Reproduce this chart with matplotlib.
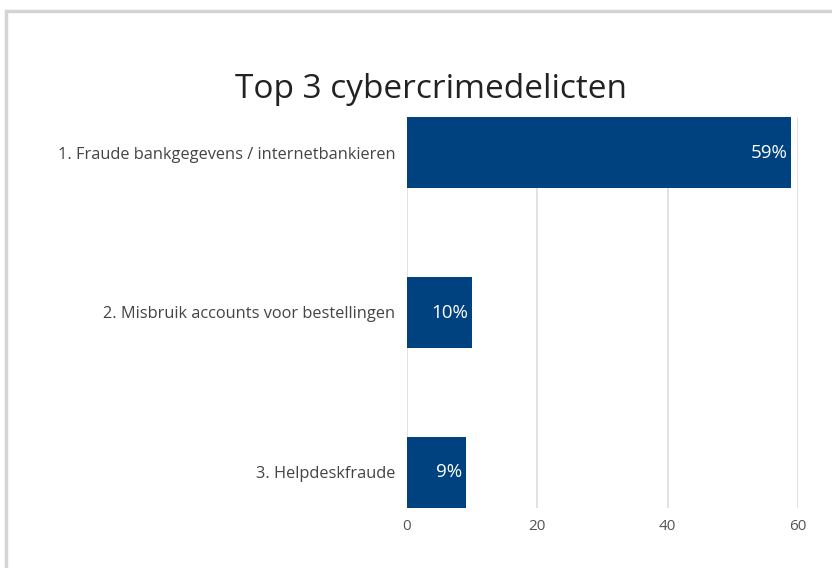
import matplotlib.pyplot as plt
from matplotlib.patches import Rectangle

# data
categories = ['1. Fraude bankgegevens / internetbankieren',
              '2. Misbruik accounts voor bestellingen',
              '3. Helpdeskfraude']
values = [59, 10, 9]
value_labels = ['59%', '10%', '9%']
x_ticks = [0, 20, 40, 60]

plt.rcParams['font.family'] = ['Open Sans', 'DejaVu Sans']

fig = plt.figure(figsize=(8.32, 5.68), dpi=100)
fig.patch.set_facecolor('white')

# grey frame around the chart (runs off the right and bottom edge)
fig.patches.append(Rectangle((6 / 832, -0.1), 1.2, 1 - 11 / 568 + 0.1,
                             transform=fig.transFigure, fill=False,
                             edgecolor='#d4d4d4', linewidth=2.5))

ax = fig.add_axes([407 / 832, 1 - 508 / 568, (798 - 407) / 832, (508 - 117) / 568])

bar_h = 0.445
ypos = list(range(len(categories)))
ax.barh(ypos, values, height=bar_h, color='#00417f', zorder=3)

for y, v, lab in zip(ypos, values, value_labels):
    ax.text(v - 0.6, y, lab, color='white', fontsize=13.5, ha='right', va='center', zorder=4)

ax.set_xlim(0, 60)
ax.set_ylim(len(categories) - 1 + bar_h / 2, -bar_h / 2)
ax.set_xticks(x_ticks)
ax.set_yticks(ypos)
ax.set_yticklabels(categories, fontsize=11.8, color='#444444')
ax.tick_params(axis='x', labelsize=11, labelcolor='#555555', length=0, pad=8)
ax.tick_params(axis='y', length=0, pad=8.5)
ax.grid(axis='x', color='#dddddd', linewidth=1.2, zorder=0)
for s in ax.spines.values():
    s.set_visible(False)

fig.text(431 / 832, 1 - 89 / 568, 'Top 3 cybercrimedelicten', fontsize=24,
         ha='center', va='center', color='#222222')

fig.savefig('out.png', dpi=100)
